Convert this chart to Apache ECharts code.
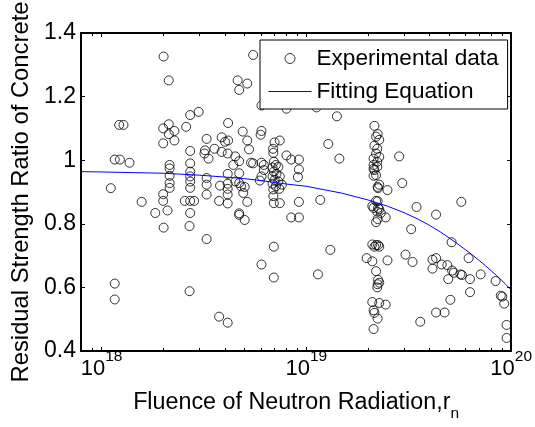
<!DOCTYPE html>
<html>
<head>
<meta charset="utf-8">
<script src="https://cdn.jsdelivr.net/npm/echarts@6/dist/echarts.min.js"></script>
<style>
  html, body { margin: 0; padding: 0; background: #fff; }
  #chart { width: 535px; height: 427px; }
</style>
</head>
<body>
<div id="chart"></div>
<script>
// measured points [fluence, residual strength ratio]
const experimental = [
  [2.01e18, 1.326], [2.13e18, 1.251], [1.22e18, 1.111], [1.28e18, 1.111], [2.0e18, 1.10],
  [2.13e18, 1.113], [2.13e18, 1.082], [2.0e18, 1.053], [1.16e18, 1.002], [1.23e18, 1.002],
  [1.37e18, 0.992], [1.11e18, 0.912], [2.0e18, 0.893], [1.57e18, 0.869], [2.0e18, 0.872],
  [2.1e18, 0.842], [1.83e18, 0.834], [2.01e18, 0.788], [1.16e18, 0.612], [1.16e18, 0.562],

  [5.5e18, 1.331], [4.62e18, 1.251], [5.15e18, 1.241], [4.7e18, 1.221], [2.71e18, 1.142],
  [2.98e18, 1.152], [2.59e18, 1.105], [2.27e18, 1.092], [2.27e18, 1.062], [4.15e18, 1.117],
  [4.89e18, 1.09], [3.26e18, 1.067], [3.86e18, 1.072], [4.01e18, 1.058], [4.15e18, 1.062],
  [5.15e18, 1.062], [5.25e18, 1.034], [2.71e18, 1.029], [3.2e18, 1.031], [3.56e18, 1.036],
  [3.18e18, 1.021], [3.33e18, 1.005], [3.86e18, 1.026], [4.13e18, 1.021], [4.5e18, 1.012],
  [5.37e18, 0.992], [4.7e18, 0.997], [4.4e18, 0.985], [2.71e18, 0.99], [2.15e18, 0.985],
  [2.15e18, 0.974], [2.15e18, 0.951], [2.15e18, 0.928], [2.15e18, 0.913], [2.71e18, 0.964],
  [2.71e18, 0.949], [2.71e18, 0.933], [2.71e18, 0.913], [3.26e18, 0.944], [3.26e18, 0.923],
  [3.26e18, 0.892], [4.13e18, 0.957], [4.13e18, 0.926], [4.13e18, 0.91], [4.13e18, 0.892],
  [4.5e18, 0.933], [4.7e18, 0.959], [4.7e18, 0.928], [4.8e18, 0.918], [5.0e18, 0.916],
  [4.92e18, 0.897], [3.79e18, 0.92], [3.75e18, 0.872], [4.13e18, 0.864], [5.15e18, 0.869],
  [2.55e18, 0.872], [2.71e18, 0.872], [2.83e18, 0.872], [2.71e18, 0.834], [2.69e18, 0.793],
  [4.7e18, 0.833], [4.7e18, 0.828], [5.0e18, 0.812], [3.26e18, 0.752], [2.69e18, 0.588],
  [3.75e18, 0.508], [4.13e18, 0.489],

  [6.04e18, 1.172], [8.0e18, 1.162], [1.12e19, 1.166], [1.41e19, 1.138], [6.04e18, 1.092],
  [5.98e18, 1.08], [7.0e18, 1.056], [7.42e18, 1.062], [6.88e18, 1.036], [6.9e18, 1.023],
  [8.0e18, 1.015], [8.44e18, 1.002], [9.2e18, 1.002], [9.2e18, 0.971], [9.1e18, 0.947],
  [1.28e19, 1.051], [1.45e19, 1.005], [5.5e18, 0.99], [6.04e18, 0.992], [6.2e18, 0.985],
  [6.2e18, 0.969], [6.04e18, 0.949], [5.93e18, 0.936], [6.94e18, 0.995], [7.1e18, 0.985],
  [6.84e18, 0.977], [7.3e18, 0.979], [6.94e18, 0.964], [7.15e18, 0.957], [6.84e18, 0.949],
  [7.42e18, 0.949], [7.0e18, 0.938], [7.3e18, 0.933], [6.84e18, 0.926], [7.6e18, 0.923],
  [7.1e18, 0.918], [6.9e18, 0.908], [7.38e18, 0.91], [6.9e18, 0.887], [6.94e18, 0.865],
  [7.42e18, 0.865], [9.2e18, 0.869], [1.17e19, 0.875], [8.44e18, 0.82], [9.2e18, 0.82],
  [6.94e18, 0.728], [1.31e19, 0.718], [6.04e18, 0.672], [6.94e18, 0.631], [1.14e19, 0.641],

  [2.15e19, 1.108], [2.23e19, 1.082], [2.19e19, 1.074], [2.27e19, 1.064], [2.15e19, 1.046],
  [2.22e19, 1.036], [2.19e19, 1.021], [2.27e19, 1.010], [2.13e19, 1.005], [2.22e19, 0.995],
  [2.13e19, 0.985], [2.22e19, 0.979], [2.15e19, 0.969], [2.13e19, 0.951], [2.27e19, 0.923],
  [2.23e19, 0.916], [2.49e19, 0.906], [2.19e19, 0.872], [2.10e19, 0.856], [2.27e19, 0.846],
  [2.22e19, 0.838], [2.31e19, 0.834], [2.44e19, 0.82], [2.23e19, 0.815], [2.19e19, 0.805],
  [2.10e19, 0.735], [2.15e19, 0.728], [2.27e19, 0.728], [1.97e19, 0.692], [2.49e19, 0.685],
  [2.10e19, 0.682], [2.19e19, 0.651], [2.27e19, 0.615], [2.23e19, 0.61], [2.22e19, 0.60],
  [2.10e19, 0.554], [2.27e19, 0.551], [2.44e19, 0.546], [2.13e19, 0.528], [2.15e19, 0.52],
  [2.23e19, 0.502], [2.13e19, 0.469], [2.13e19, 0.973], [2.19e19, 0.953], [2.24e19, 0.912],
  [2.23e19, 0.871], [2.13e19, 0.85], [2.24e19, 0.85], [2.19e19, 0.733], [2.24e19, 0.733],
  [2.24e19, 0.624],
  [2.84e19, 1.012], [2.94e19, 0.928], [3.45e19, 0.853], [3.25e19, 0.783], [3.05e19, 0.703],
  [3.3e19, 0.68], [3.6e19, 0.492],

  [5.71e19, 0.869], [4.3e19, 0.829], [5.12e19, 0.742], [6.2e19, 0.692], [4.13e19, 0.687],
  [4.3e19, 0.692], [4.13e19, 0.659], [4.58e19, 0.672], [4.88e19, 0.67], [5.15e19, 0.653],
  [5.25e19, 0.646], [4.93e19, 0.626], [5.65e19, 0.641], [5.75e19, 0.639], [6.3e19, 0.626],
  [7.1e19, 0.641], [6.3e19, 0.585], [8.4e19, 0.62], [8.9e19, 0.574], [9.05e19, 0.571],
  [9.25e19, 0.549], [5.05e19, 0.561], [4.3e19, 0.521], [4.73e19, 0.521], [9.5e19, 0.482],
  [9.5e19, 0.441]
];

// fitting curve
const fitCurve = [
  [7.94e17, 0.964], [1e18, 0.963], [2e18, 0.959], [3e18, 0.953], [4e18, 0.947],
  [5e18, 0.942], [6e18, 0.936], [7e18, 0.930], [8e18, 0.925], [1e19, 0.918],
  [1.5e19, 0.896], [2e19, 0.875], [2.5e19, 0.855], [3e19, 0.835], [3.5e19, 0.815],
  [4e19, 0.795], [4.5e19, 0.775], [5e19, 0.755], [5.5e19, 0.736], [6e19, 0.718],
  [6.5e19, 0.701], [7e19, 0.684], [7.5e19, 0.668], [8e19, 0.652], [8.5e19, 0.637],
  [9e19, 0.622], [9.5e19, 0.607], [1e20, 0.592]
];

const majorTicks = [1e18, 1e19, 1e20];
const minorTicks = [8e17, 9e17,
  2e18, 3e18, 4e18, 5e18, 6e18, 7e18, 8e18, 9e18,
  2e19, 3e19, 4e19, 5e19, 6e19, 7e19, 8e19, 9e19];

const X_MIN = 7.94e17, X_MAX = 1e20;
const FONT = '"Liberation Sans", Arial, sans-serif';
// transparent 1x1 gif, so the legend line entry shows no marker
const NO_MARKER = 'image://data:image/gif;base64,R0lGODlhAQABAIAAAAAAAP///yH5BAEAAAAALAAAAAABAAEAAAIBRAA7';

function logAxis(pos, ticks, len, showLine) {
  return {
    type: 'log', logBase: 10, min: X_MIN, max: X_MAX, position: pos,
    axisLine: { show: showLine, onZero: false, lineStyle: { color: '#000', width: 2 } },
    axisTick: { show: true, inside: true, length: len, customValues: ticks,
      lineStyle: { color: '#000', width: 1 } },
    axisLabel: { show: false },
    splitLine: { show: false },
    minorTick: { show: false }
  };
}

const xMain = logAxis('bottom', majorTicks, 4, true);
xMain.axisLabel = {
  show: true, customValues: majorTicks, margin: -2, color: '#000',
  formatter: v => '{b|10}{s|' + Math.round(Math.log10(v)) + '}',
  rich: {
    b: { fontSize: 22, fontFamily: FONT, color: '#000', lineHeight: 31, verticalAlign: 'bottom' },
    s: { fontSize: 15.5, fontFamily: FONT, color: '#000', lineHeight: 14, verticalAlign: 'top' }
  }
};
xMain.name = '{a|Fluence of Neutron Radiation,r}{s|n}';
xMain.nameLocation = 'middle';
xMain.nameGap = 40;
xMain.nameTextStyle = {
  rich: {
    a: { fontSize: 23.3, fontFamily: FONT, color: '#000', lineHeight: 26, verticalAlign: 'top' },
    s: { fontSize: 15.5, fontFamily: FONT, color: '#000', lineHeight: 31, verticalAlign: 'bottom' }
  }
};

const chart = echarts.init(document.getElementById('chart'));
chart.setOption({
  animation: false,
  textStyle: { fontFamily: FONT },
  grid: { left: 81, right: 21, top: 33, bottom: 69 },
  legend: {
    data: ['Experimental data', 'Fitting Equation'],
    orient: 'vertical', left: 260, top: 40,
    padding: [7, 9, 6, 8], itemGap: 10, itemWidth: 43, itemHeight: 10,
    borderColor: '#000', borderWidth: 1, backgroundColor: '#fff',
    selectedMode: false,
    itemStyle: { borderWidth: 1 },
    lineStyle: { width: 'inherit' },
    textStyle: { fontSize: 22.6, color: '#000', fontFamily: FONT }
  },
  xAxis: [
    xMain,
    logAxis('top', majorTicks, 4, true),
    logAxis('bottom', minorTicks, 3, false),
    logAxis('top', minorTicks, 3, false)
  ],
  yAxis: [
    {
      type: 'value', min: 0.4, max: 1.4, interval: 0.2, position: 'left',
      name: 'Residual Strength Ratio of Concrete', nameLocation: 'middle', nameGap: 40,
      nameTextStyle: { fontSize: 23.8, color: '#000', fontFamily: FONT },
      axisLine: { show: true, onZero: false, lineStyle: { color: '#000', width: 2 } },
      axisTick: { show: true, inside: true, length: 4, lineStyle: { color: '#000' } },
      axisLabel: { fontSize: 23, color: '#000', margin: 5, fontFamily: FONT },
      splitLine: { show: false }
    },
    {
      type: 'value', min: 0.4, max: 1.4, interval: 0.2, position: 'right',
      axisLine: { show: true, onZero: false, lineStyle: { color: '#000', width: 2 } },
      axisTick: { show: true, inside: true, length: 4, lineStyle: { color: '#000' } },
      axisLabel: { show: false },
      splitLine: { show: false }
    }
  ],
  series: [
    {
      name: 'Experimental data', type: 'scatter', data: experimental,
      symbol: 'circle', symbolSize: 9,
      itemStyle: { color: 'transparent', borderColor: '#000', borderWidth: 1 }
    },
    {
      name: 'Fitting Equation', type: 'line', data: fitCurve,
      symbol: NO_MARKER, showSymbol: false,
      lineStyle: { color: '#0000ff', width: 1 }, itemStyle: { color: '#0000ff' }
    }
  ]
});
</script>
</body>
</html>
